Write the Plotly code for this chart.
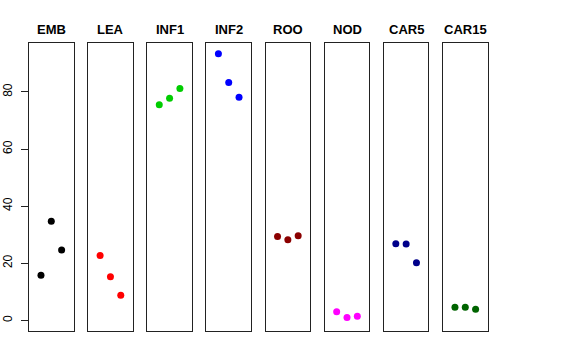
import plotly.graph_objects as go

categories = ["EMB", "LEA", "INF1", "INF2", "ROO", "NOD", "CAR5", "CAR15"]
colors = ["#000000", "#FF0000", "#00CD00", "#0000FF", "#8B0000", "#FF00FF", "#00008B", "#006400"]
x_positions = [1, 2, 3]
values = {
    "EMB": [15.8, 34.7, 24.6],
    "LEA": [22.7, 15.3, 8.8],
    "INF1": [75.5, 77.8, 81.2],
    "INF2": [93.4, 83.3, 78.1],
    "ROO": [29.4, 28.2, 29.6],
    "NOD": [3.0, 1.0, 1.4],
    "CAR5": [26.8, 26.7, 20.2],
    "CAR15": [4.6, 4.6, 3.9],
}
y_ticks = [0, 20, 40, 60, 80]

W, H = 576, 360
left0, step, pw = 29.0, 59.14, 44.6
top_px, bot_px = 43.0, 331.0
ymax = max(max(v) for v in values.values())
ypad = 0.04 * ymax
yrange = [-ypad, ymax + ypad]
xrange = [-0.16, 4.16]

fig = go.Figure()
for i, (cat, col) in enumerate(zip(categories, colors)):
    n = i + 1
    xa = "x" if n == 1 else f"x{n}"
    ya = "y" if n == 1 else f"y{n}"
    fig.add_trace(go.Scatter(
        x=x_positions, y=values[cat], mode="markers",
        marker=dict(color=col, size=7, line=dict(width=0)),
        xaxis=xa, yaxis=ya, showlegend=False, hoverinfo="skip",
    ))
    l = left0 + i * step
    xd = [l / W, (l + pw) / W]
    yd = [1 - bot_px / H, 1 - top_px / H]
    xkey = "xaxis" if n == 1 else f"xaxis{n}"
    ykey = "yaxis" if n == 1 else f"yaxis{n}"
    fig.update_layout(**{
        xkey: dict(domain=xd, range=xrange, showgrid=False, zeroline=False,
                   showticklabels=False, ticks="", showline=True, mirror=True,
                   linecolor="#222", linewidth=1, anchor=ya, fixedrange=True,
                   automargin=False),
        ykey: dict(domain=yd, range=yrange, showgrid=False, zeroline=False,
                   showline=True, mirror=True, linecolor="#222", linewidth=1,
                   anchor=xa, fixedrange=True, automargin=False,
                   showticklabels=(n == 1), ticks=("outside" if n == 1 else ""),
                   tickvals=y_ticks if n == 1 else [], ticklen=7, tickcolor="#222",
                   ticklabelstandoff=4,
                   tickangle=-90, tickfont=dict(family="Liberation Sans, Arial", size=12, color="#000")),
    })
    fig.add_annotation(
        x=(xd[0] + xd[1]) / 2, y=1 - 29 / H, xref="paper", yref="paper",
        text=f"<b>{cat}</b>", showarrow=False,
        font=dict(family="Liberation Sans, Arial", size=13, color="#000"),
        xanchor="center", yanchor="middle",
    )

fig.update_layout(
    width=W, height=H, margin=dict(l=0, r=0, t=0, b=0, autoexpand=False),
    paper_bgcolor="white", plot_bgcolor="white",
)
fig.write_html("out.html", config={"displayModeBar": False},
               post_script="document.body.style.margin='0';")
